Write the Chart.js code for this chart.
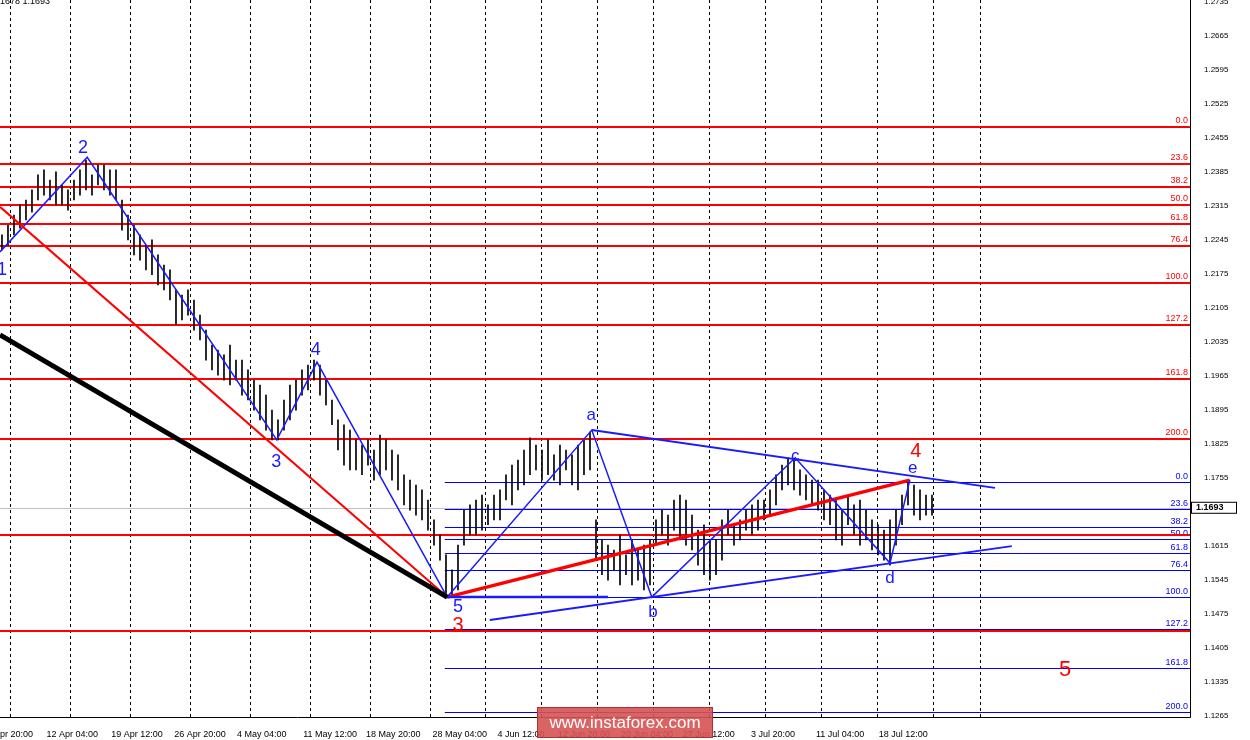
<!DOCTYPE html>
<html>
<head>
<meta charset="utf-8">
<script src="https://cdn.jsdelivr.net/npm/chart.js@4.4.1/dist/chart.umd.min.js"></script>
<style>
  html, body { margin: 0; padding: 0; background: #fff; overflow: hidden; }
  canvas { display: block; }
</style>
</head>
<body>
<canvas id="c" width="1250" height="740"></canvas>
<script>
// highs / lows of the bars (4h), one per bar index
const highs = [
  1.2255,1.2275,1.2296,1.2317,1.2327,1.2348,
  1.2379,1.2389,1.2368,1.2385,1.2358,1.2348,1.2368,1.2389,
  1.2409,1.2379,1.2399,1.2399,1.2389,1.2389,
  1.2327,1.2296,1.2275,1.2255,1.2234,1.2245,1.2214,1.2193,1.2183,
  1.2142,1.2131,1.2142,1.2121,1.2090,
  1.2059,1.2028,1.2018,1.2008,1.2028,1.1997,
  1.1997,1.1977,1.1956,1.1946,1.1925,1.1894,
  1.1874,1.1915,1.1946,1.1956,1.1977,1.1987,1.1997,
  1.1987,1.1956,1.1915,1.1874,1.1864,1.1853,
  1.1833,1.1822,1.1833,1.1812,1.1843,1.1833,1.1812,1.1802,
  1.1761,1.1750,1.1740,1.1730,1.1709,1.1668,1.1637,
  1.1596,1.1565,1.1616,
  1.1688,1.1699,1.1709,1.1719,1.1699,1.1719,1.1730,
  1.1761,1.1781,1.1791,1.1812,1.1837,
  1.1822,1.1812,1.1833,1.1802,1.1822,1.1812,1.1802,1.1822,1.1833,1.1849,
  1.1668,1.1627,1.1616,1.1606,1.1637,1.1596,1.1627,1.1606,1.1616,1.1627,
  1.1668,1.1688,1.1678,1.1709,1.1719,1.1709,
  1.1678,1.1647,1.1658,1.1627,1.1627,1.1668,
  1.1688,1.1658,1.1668,1.1688,1.1699,1.1709,1.1709,1.1730,1.1761,1.1781,1.1796,
  1.1791,1.1771,1.1761,1.1750,1.1750,1.1730,1.1719,
  1.1709,1.1688,1.1719,1.1699,1.1709,1.1688,1.1668,1.1658,1.1647,
  1.1668,1.1688,1.1719,1.1750,1.1740,1.1730,1.1719,1.1719
];
const lows = [
  1.2224,1.2234,1.2255,1.2269,1.2286,1.2302,
  1.2327,1.2337,1.2327,1.2317,1.2317,1.2306,1.2327,1.2337,
  1.2348,1.2337,1.2358,1.2348,1.2337,1.2327,
  1.2265,1.2245,1.2214,1.2203,1.2183,1.2173,1.2152,1.2142,1.2121,
  1.2070,1.2080,1.2090,1.2059,1.2039,
  1.1997,1.1977,1.1966,1.1956,1.1946,1.1956,
  1.1925,1.1915,1.1894,1.1874,1.1853,1.1833,
  1.1833,1.1853,1.1874,1.1894,1.1925,1.1936,1.1956,
  1.1925,1.1905,1.1864,1.1812,1.1781,1.1771,
  1.1771,1.1761,1.1781,1.1750,1.1761,1.1771,1.1750,1.1730,
  1.1699,1.1688,1.1678,1.1668,1.1647,1.1616,1.1585,
  1.1513,1.1509,1.1524,
  1.1616,1.1637,1.1637,1.1647,1.1658,1.1668,1.1668,
  1.1709,1.1699,1.1730,1.1740,1.1761,
  1.1771,1.1750,1.1761,1.1750,1.1740,1.1771,1.1740,1.1730,1.1761,1.1771,
  1.1585,1.1555,1.1544,1.1565,1.1534,1.1555,1.1534,1.1544,1.1524,1.1534,
  1.1616,1.1637,1.1616,1.1647,1.1627,1.1616,
  1.1606,1.1575,1.1555,1.1544,1.1555,1.1585,
  1.1637,1.1616,1.1627,1.1647,1.1637,1.1647,1.1668,1.1678,1.1699,1.1730,1.1740,
  1.1730,1.1719,1.1709,1.1699,1.1688,1.1668,1.1658,
  1.1627,1.1616,1.1658,1.1637,1.1616,1.1627,1.1606,1.1596,1.1585,
  1.1575,1.1616,1.1658,1.1699,1.1678,1.1668,1.1678,1.1678
];

// price axis labels
const yTicks = [1.2735,1.2665,1.2595,1.2525,1.2455,1.2385,1.2315,1.2245,1.2175,1.2105,1.2035,
  1.1965,1.1895,1.1825,1.1755,1.1685,1.1615,1.1545,1.1475,1.1405,1.1335,1.1265];
// time labels and their bar positions
const xLabels = ['5 Apr 20:00','12 Apr 04:00','19 Apr 12:00','26 Apr 20:00','4 May 04:00','11 May 12:00',
  '18 May 20:00','28 May 04:00','4 Jun 12:00','12 Jun 20:00','20 Jun 04:00','27 Jun 12:00',
  '3 Jul 20:00','11 Jul 04:00','18 Jul 12:00'];
const xLabelPos = [1.3,11.7,22.5,33,43.3,54.7,65.2,76.3,86.5,97,107.5,117.8,128.5,139.7,150.2];
const gridPos = [1.3,11.3,21.3,31.3,41.3,51.3,61.3,71.3,80.5,89.8,99.2,108.5,117.8,127.2,136.5,145.8,155.2,163];

// fibonacci levels
const redLevels = [1.2477,1.2401,1.2354,1.2317,1.2278,1.2232,1.2156,1.2070,1.1958,1.1835,1.1637,1.1439];
const redNames  = ['0.0','23.6','38.2','50.0','61.8','76.4','100.0','127.2','161.8','200.0','',''];
const blueLevels = [1.1746,1.1691,1.1653,1.1629,1.1600,1.1565,1.1509,1.1443,1.1363,1.1272];
const blueNames  = ['0.0','23.6','38.2','50.0','61.8','76.4','100.0','127.2','161.8','200.0'];
const lastPrice = 1.1693;

// wave lines
const impulse = [{x:-0.33,y:1.2220},{x:14.2,y:1.2415},{x:45.8,y:1.1833},{x:52.5,y:1.1993},{x:74.2,y:1.1509}];
const triangle = [{x:74.2,y:1.1509},{x:98.3,y:1.1853},{x:108.3,y:1.1509},{x:132.2,y:1.1796},{x:148,y:1.1579},{x:151.3,y:1.1750}];
const upperLine = [{x:98.3,y:1.1853},{x:165.5,y:1.1734}];
const lowerLine = [{x:81.3,y:1.1462},{x:168.3,y:1.1614}];
const redTrend = [{x:-0.33,y:1.2313},{x:74.2,y:1.1509}];
const blackTrend = [{x:-0.33,y:1.2049},{x:74.2,y:1.1509}];
const redWave = [{x:74.2,y:1.1509},{x:151.3,y:1.1750}];
const baseLine = [{x:73.8,y:1.1509},{x:101,y:1.1509}];

const waveText = [
  ['1',0,1.2183,'#1a1aff',18],['2',13.5,1.2434,'#1a1aff',18],['3',45.7,1.1787,'#1a1aff',18],
  ['4',52.3,1.2018,'#1a1aff',18],['5',76,1.1489,'#1a1aff',18],['3',76,1.1450,'#ff0000',20],
  ['a',98.2,1.1884,'#1a1aff',17],['b',108.5,1.1478,'#1a1aff',17],['c',132.2,1.1799,'#1a1aff',17],
  ['d',148,1.1548,'#1a1aff',17],['e',151.8,1.1775,'#1a1aff',17],['4',152.3,1.1808,'#ff0000',20],
  ['5',177.2,1.1359,'#ff0000',22]
];

const bars = highs.map((h, i) => ({x: i, y: [lows[i], h]}));

function lineSet(pts, color, w) {
  return {type: 'line', data: pts, borderColor: color, borderWidth: w, pointRadius: 0, fill: false, order: 0};
}

const overlay = {
  id: 'overlay',
  beforeDatasetsDraw(chart) {
    const ctx = chart.ctx, xs = chart.scales.x, ys = chart.scales.y, a = chart.chartArea;
    ctx.save();
    // dashed time grid
    ctx.strokeStyle = '#000'; ctx.lineWidth = 1; ctx.setLineDash([3, 3]);
    gridPos.forEach(g => {
      const px = Math.round(xs.getPixelForValue(g)) + 0.5;
      ctx.beginPath(); ctx.moveTo(px, a.top); ctx.lineTo(px, a.bottom); ctx.stroke();
    });
    ctx.setLineDash([]);
    // current price line
    let py = Math.round(ys.getPixelForValue(lastPrice)) + 0.5;
    ctx.strokeStyle = '#c0c0c0';
    ctx.beginPath(); ctx.moveTo(a.left, py); ctx.lineTo(a.right, py); ctx.stroke();
    // blue fib
    const bx = xs.getPixelForValue(73.8);
    ctx.strokeStyle = '#0000ff'; ctx.fillStyle = '#0000ff';
    ctx.font = '9px "Liberation Sans"'; ctx.textAlign = 'right'; ctx.textBaseline = 'bottom';
    blueLevels.forEach((v, i) => {
      const y = Math.round(ys.getPixelForValue(v)) + 0.5;
      ctx.beginPath(); ctx.moveTo(bx, y); ctx.lineTo(a.right, y); ctx.stroke();
      ctx.fillText(blueNames[i], a.right - 2, y - 1);
    });
    // red fib
    ctx.strokeStyle = '#ff0000'; ctx.fillStyle = '#ff0000'; ctx.lineWidth = 2;
    redLevels.forEach((v, i) => {
      const y = Math.round(ys.getPixelForValue(v));
      ctx.beginPath(); ctx.moveTo(a.left, y); ctx.lineTo(a.right, y); ctx.stroke();
      if (redNames[i]) ctx.fillText(redNames[i], a.right - 2, y - 2);
    });
    ctx.restore();
  },
  afterDraw(chart) {
    const ctx = chart.ctx, xs = chart.scales.x, ys = chart.scales.y, a = chart.chartArea;
    ctx.save();
    ctx.textAlign = 'center'; ctx.textBaseline = 'middle';
    waveText.forEach(t => {
      ctx.fillStyle = t[3]; ctx.font = t[4] + 'px "Liberation Sans"';
      ctx.fillText(t[0], xs.getPixelForValue(t[1]), ys.getPixelForValue(t[2]));
    });
    // axis border
    ctx.strokeStyle = '#000'; ctx.lineWidth = 1;
    ctx.beginPath(); ctx.moveTo(a.right + 0.5, 0); ctx.lineTo(a.right + 0.5, a.bottom + 0.5);
    ctx.lineTo(0, a.bottom + 0.5); ctx.stroke();
    // last price box
    const py = ys.getPixelForValue(lastPrice);
    ctx.fillStyle = '#fff'; ctx.fillRect(a.right + 1, py - 6, 46, 12);
    ctx.strokeRect(a.right + 1.5, py - 5.5, 45, 11);
    ctx.fillStyle = '#000'; ctx.font = 'bold 9px "Liberation Sans"'; ctx.textAlign = 'left';
    ctx.fillText(lastPrice.toFixed(4), a.right + 6, py);
    // top-left info
    ctx.font = '9px "Liberation Sans"'; ctx.textBaseline = 'top';
    ctx.fillText('1678 1.1693', 0, -3);
    // watermark
    ctx.fillStyle = 'rgba(214,82,82,0.9)'; ctx.fillRect(537, 707, 176, 31);
    ctx.strokeStyle = '#b03030'; ctx.strokeRect(537.5, 707.5, 175, 30);
    ctx.fillStyle = '#fff'; ctx.font = '17px "Liberation Sans"'; ctx.textAlign = 'center'; ctx.textBaseline = 'middle';
    ctx.fillText('www.instaforex.com', 625, 723);
    ctx.restore();
  }
};

new Chart(document.getElementById('c'), {
  type: 'bar',
  data: {
    datasets: [
      {data: bars, backgroundColor: '#000', borderWidth: 0, barThickness: 1, order: 1, grouped: false},
      lineSet(blackTrend, '#000', 5),
      lineSet(redTrend, '#ff0000', 2),
      lineSet(impulse, '#1a1aff', 1.5),
      lineSet(triangle, '#1a1aff', 1.5),
      lineSet(upperLine, '#1a1aff', 2),
      lineSet(lowerLine, '#1a1aff', 2),
      lineSet(baseLine, '#1a1aff', 2.5),
      lineSet(redWave, '#ff0000', 3.5)
    ]
  },
  options: {
    responsive: false, animation: false, maintainAspectRatio: false,
    devicePixelRatio: 1,
    layout: {padding: {top: 0, right: 0, bottom: 0, left: 0}},
    plugins: {legend: {display: false}, tooltip: {enabled: false}},
    scales: {
      x: {
        type: 'linear', min: -0.33, max: 198, offset: false,
        grid: {display: false}, border: {display: false},
        afterFit(s) { s.height = 23; s.paddingLeft = 0; s.paddingRight = 0; },
        afterBuildTicks(s) { s.ticks = xLabelPos.map(v => ({value: v})); },
        ticks: {
          autoSkip: false, maxRotation: 0, padding: 4, color: '#000',
          font: {family: 'Liberation Sans', size: 9},
          callback(v) { const i = xLabelPos.indexOf(v); return i >= 0 ? xLabels[i] : ''; }
        }
      },
      y: {
        position: 'right', min: 1.1262, max: 1.2739,
        grid: {display: false}, border: {display: false},
        afterFit(s) { s.width = 60; s.paddingTop = 0; s.paddingBottom = 0; },
        afterBuildTicks(s) { s.ticks = yTicks.map(v => ({value: v})); },
        ticks: {
          autoSkip: false, padding: 6, color: '#000', font: {family: 'Liberation Sans', size: 8},
          callback: v => v.toFixed(4)
        }
      }
    }
  },
  plugins: [overlay]
});
</script>
</body>
</html>
